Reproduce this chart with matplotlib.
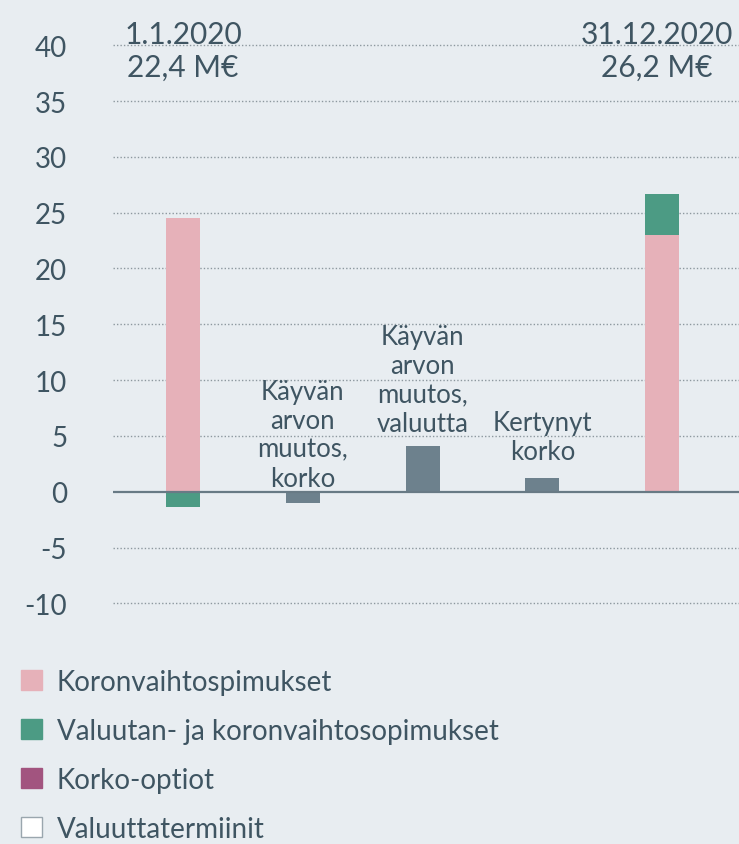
import matplotlib
matplotlib.use("Agg")
import matplotlib.pyplot as plt
from matplotlib.patches import Patch
import numpy as np

plt.rcParams["font.family"] = ["Lato", "DejaVu Sans"]
plt.rcParams["axes.unicode_minus"] = False

# ---- data --------------------------------------------------------
bar_labels = ["", "Käyvän\narvon\nmuutos,\nkorko", "Käyvän\narvon\nmuutos,\nvaluutta",
              "Kertynyt\nkorko", ""]
label_y = [0, 0.55, 5.45, 2.95, 0]
koronvaihto = [24.5, 0, 0, 0, 23.0]
valuutan_koron = [-1.4, 0, 0, 0, 3.7]
muutos = [0, -1.05, 4.1, 1.2, 0]
headers = ["1.1.2020\n22,4 M€", "31.12.2020\n26,2 M€"]
header_x = [0, 3.96]
legend_labels = ["Koronvaihtospimukset", "Valuutan- ja koronvaihtosopimukset",
                 "Korko-optiot", "Valuuttatermiinit"]
yticks = np.arange(-10, 41, 5)

BG = "#e8edf1"
TXT = "#3f5562"
PINK = "#e6b1b9"
GREEN = "#4c9b84"
PURPLE = "#a2547f"
GREY = "#6d818d"

fig = plt.figure(figsize=(7.39, 8.45), dpi=100, facecolor=BG)
ax = fig.add_axes([0.1529, 0.2716, 0.8471, 0.7133], facecolor=BG)

x = np.arange(len(koronvaihto))
w = 0.284
kv = np.array(koronvaihto)
vk = np.array(valuutan_koron)
ax.bar(x, kv, w, color=PINK, zorder=2)
ax.bar(x, vk, w, bottom=np.where(vk > 0, kv, 0), color=GREEN, zorder=2)
ax.bar(x, muutos, w, color=GREY, zorder=2)

ax.axhline(0, color="#687a85", lw=1.6, zorder=3)

for xi, txt, yy in zip(x, bar_labels, label_y):
    if txt:
        ax.text(xi, yy, txt, ha="center", va="baseline", fontsize=18.5,
                color=TXT, linespacing=1.2)

for xi, txt in zip(header_x, headers):
    ax.text(xi, 37.3, txt, ha="center", va="baseline", fontsize=21.5,
            color=TXT, linespacing=1.2, clip_on=False)

ax.set_xlim(-0.585, 4.643)
ax.set_ylim(-11, 43)
ax.set_yticks(yticks)
ax.set_xticks([])
for yv in yticks:
    if yv != 0:
        ax.axhline(yv, color="#8d989f", lw=1.0, ls=(0, (1, 1.5)), zorder=1)
ax.tick_params(axis="y", length=0, pad=33, labelsize=20, labelcolor=TXT)
for s in ax.spines.values():
    s.set_visible(False)

handles = [Patch(facecolor=PINK, edgecolor=PINK),
           Patch(facecolor=GREEN, edgecolor=GREEN),
           Patch(facecolor=PURPLE, edgecolor=PURPLE),
           Patch(facecolor="white", edgecolor="#9aa6ae", lw=1.0)]
fig.legend(handles, legend_labels, loc="upper left", bbox_to_anchor=(0.0134, 0.2205),
           frameon=False, fontsize=20, handlelength=0.755, handleheight=0.755,
           handletextpad=0.54, labelspacing=0.83, borderaxespad=0, labelcolor=TXT)

fig.savefig("out.png", dpi=100, facecolor=BG)
